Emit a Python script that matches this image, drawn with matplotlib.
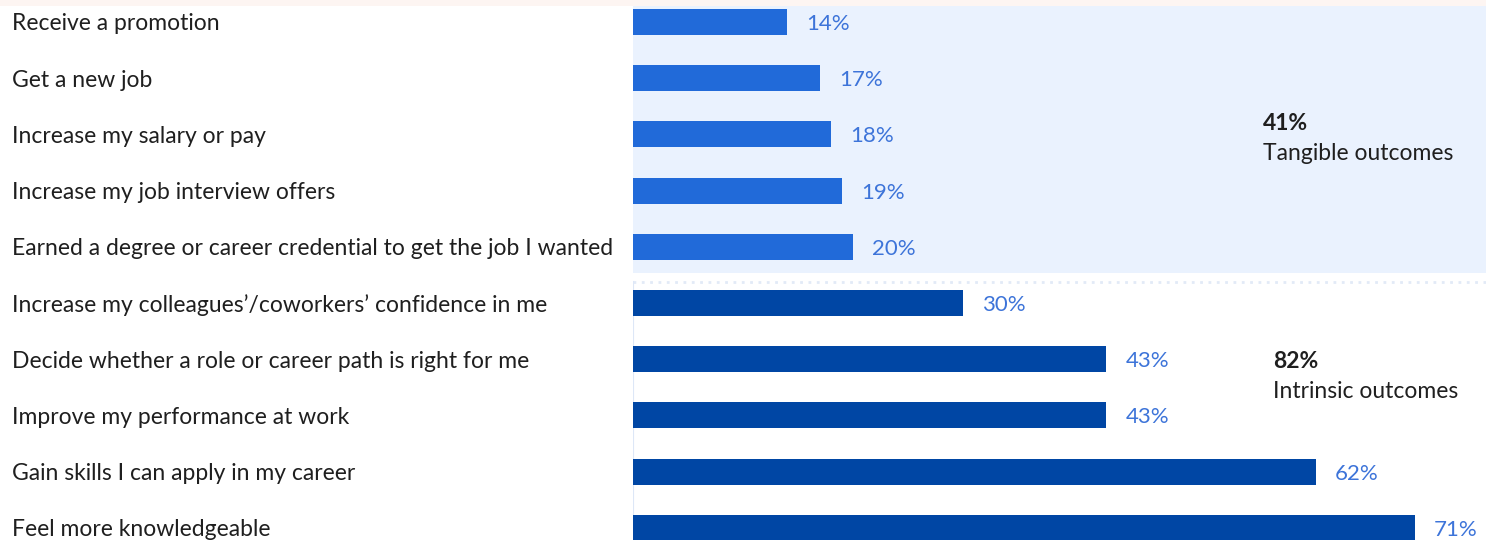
import matplotlib
matplotlib.use("Agg", force=True)
import matplotlib.pyplot as plt
from matplotlib.patches import Rectangle

# data
labels = [
    "Receive a promotion",
    "Get a new job",
    "Increase my salary or pay",
    "Increase my job interview offers",
    "Earned a degree or career credential to get the job I wanted",
    "Increase my colleagues\u2019/coworkers\u2019 confidence in me",
    "Decide whether a role or career path is right for me",
    "Improve my performance at work",
    "Gain skills I can apply in my career",
    "Feel more knowledgeable",
]
values = [14, 17, 18, 19, 20, 30, 43, 43, 62, 71]
groups = ["tangible"] * 5 + ["intrinsic"] * 5
group_totals = {"tangible": ("41%", "Tangible outcomes"), "intrinsic": ("82%", "Intrinsic outcomes")}

colors = {"tangible": "#216ad9", "intrinsic": "#0046a4"}
val_color = "#3d74d9"
text_color = "#1f1f1f"
font = ["Lato", "DejaVu Sans"]
fs = 16.5

W, H = 1486, 540
fig = plt.figure(figsize=(W / 100, H / 100), dpi=100)

x0 = 633
ax = fig.add_axes([x0 / W, 0, (W - x0) / W, 1])
px_per_pct = 11.01
row = 56.2
y_first = 22
ax.set_xlim(0, (W - x0) / px_per_pct)
ax.set_ylim((H - y_first) / row, -y_first / row)
ax.axis("off")

def py(p):
    # pixel row from top -> data y
    return (p - y_first) / row

# shaded tangible band
ax.add_patch(Rectangle((0, py(6)), 100, py(273) - py(6), color="#eaf2fe", zorder=0, lw=0))
# pink strip at top
fig.patches.append(Rectangle((0, 1 - 6 / H), 1, 6 / H, transform=fig.transFigure,
                             color="#fdf5f2", zorder=0, lw=0))
# dotted separators
ax.axhline(py(282), color="#e2eaf7", lw=2, ls=(0, (1, 2)), zorder=1)
ax.axvline(0, color="#dde7f7", lw=1.5, ymin=0, ymax=1 - 282 / H, zorder=1)

ys = list(range(len(labels)))
ax.barh(ys, values, height=0.46, color=[colors[g] for g in groups], zorder=2)

dy = 2  # text baseline nudge in px
for y, v, lab in zip(ys, values, labels):
    ax.text(v + 19 / px_per_pct, y + dy / row, f"{v}%", va="center", ha="left", color=val_color,
            fontsize=16, family=font)
    fig.text(12 / W, 1 - (y_first + row * y + dy) / H, lab, va="center", ha="left",
             color=text_color, fontsize=fs, family=font)

ax.text((1263 - x0) / px_per_pct, py(123), group_totals["tangible"][0], va="center",
        ha="left", fontsize=fs, fontweight="bold", color=text_color, family=font)
ax.text((1263 - x0) / px_per_pct, py(153), group_totals["tangible"][1], va="center",
        ha="left", fontsize=fs, color=text_color, family=font)
ax.text((1273 - x0) / px_per_pct, py(362), group_totals["intrinsic"][0], va="center",
        ha="left", fontsize=fs, fontweight="bold", color=text_color, family=font)
ax.text((1273 - x0) / px_per_pct, py(392), group_totals["intrinsic"][1], va="center",
        ha="left", fontsize=fs, color=text_color, family=font)

fig.savefig("out.png", dpi=100)
